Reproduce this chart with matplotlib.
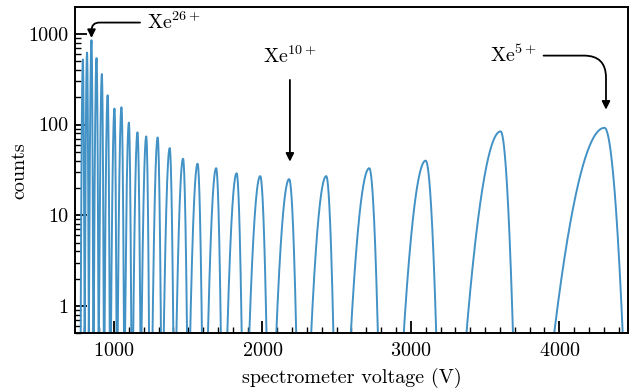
import matplotlib
matplotlib.use("Agg")
import matplotlib.pyplot as plt
import numpy as np
from matplotlib.ticker import FuncFormatter, MultipleLocator, LogLocator

plt.rcParams["font.family"] = "serif"
plt.rcParams["font.serif"] = ["cmr10"]
plt.rcParams["mathtext.fontset"] = "cm"
plt.rcParams["axes.unicode_minus"] = False
plt.rcParams["axes.formatter.use_mathtext"] = True

# charge states and peak parameters
charge = [28, 27, 26, 25, 24, 23, 22, 21, 20, 19, 18, 17,
          16, 15, 14, 13, 12, 11, 10, 9, 8, 7, 6, 5]
peak_volt = [790, 818, 848, 882, 918, 957, 1003, 1050, 1100, 1158, 1217, 1294,
             1375, 1465, 1563, 1688, 1826, 1985, 2180, 2430, 2720, 3100, 3605, 4305]
peak_counts = [520, 620, 850, 540, 360, 210, 150, 155, 105, 82, 74, 72,
               55, 42, 37, 33, 29, 27, 25, 27, 33, 40, 84, 92]
width_left = [4, 4, 4.5, 5, 5.5, 6, 7, 7.5, 8, 9, 10, 11,
              13, 15, 17, 19, 22, 26, 31, 36, 43, 50, 72, 105]
width_right = [3, 3, 3, 3.5, 3.5, 4, 4, 5, 5, 6, 6, 7,
               8, 9, 10, 11, 12, 15, 17, 17, 20, 24, 26, 38]

volt = np.arange(740, 4466, 1.0)
counts = np.zeros_like(volt)
for c, h, sl, sr in zip(peak_volt, peak_counts, width_left, width_right):
    s = np.where(volt < c, sl, sr)
    counts += h * np.exp(-0.5 * ((volt - c) / s) ** 2)

fs = 14.5
fig = plt.figure(figsize=(6.33, 3.88), dpi=100)
ax = fig.add_axes([0.1185, 0.141, 0.874, 0.8397])
ax.plot(volt, counts, color="#4292c6", lw=1.4)
ax.set_yscale("log", nonpositive="clip")
ax.set_xlim(737, 4465)
ax.set_ylim(0.5, 1950)

ax.yaxis.set_major_formatter(FuncFormatter(lambda v, _: f"{v:g}"))
ax.yaxis.set_minor_locator(LogLocator(base=10, subs=np.arange(2, 10)))
ax.yaxis.set_minor_formatter(FuncFormatter(lambda v, _: ""))
ax.xaxis.set_major_locator(MultipleLocator(1000))
ax.xaxis.set_minor_locator(MultipleLocator(100))
ax.tick_params(which="both", direction="in", top=False, right=False, labelsize=fs)
ax.tick_params(which="major", length=8.5, width=1.3)
ax.tick_params(which="minor", length=4.5, width=1.0)
ax.tick_params(axis="x", which="major", pad=6)
ax.tick_params(axis="y", which="major", pad=5)
for sp in ax.spines.values():
    sp.set_linewidth(1.4)

ax.set_xlabel("spectrometer voltage (V)", fontsize=fs, labelpad=6)
ax.set_ylabel("counts", fontsize=fs, labelpad=0)

arrow = dict(arrowstyle="-|>", color="black", lw=1.3, mutation_scale=12,
             shrinkA=3, shrinkB=0)
ax.annotate("Xe$^{26+}$", xy=(848, 900), xytext=(1222, 1330),
            ha="left", va="center", fontsize=fs,
            arrowprops=dict(arrow, connectionstyle="angle,angleA=0,angleB=90,rad=8"))
ax.annotate("Xe$^{10+}$", xy=(2185, 39), xytext=(2185, 560),
            ha="center", va="center", fontsize=fs,
            arrowprops=dict(arrow, shrinkA=7))
ax.annotate("Xe$^{5+}$", xy=(4315, 146), xytext=(3690, 575),
            ha="center", va="center", fontsize=fs,
            arrowprops=dict(arrow, connectionstyle="angle,angleA=0,angleB=90,rad=22"))

fig.savefig("out.png", dpi=100)
